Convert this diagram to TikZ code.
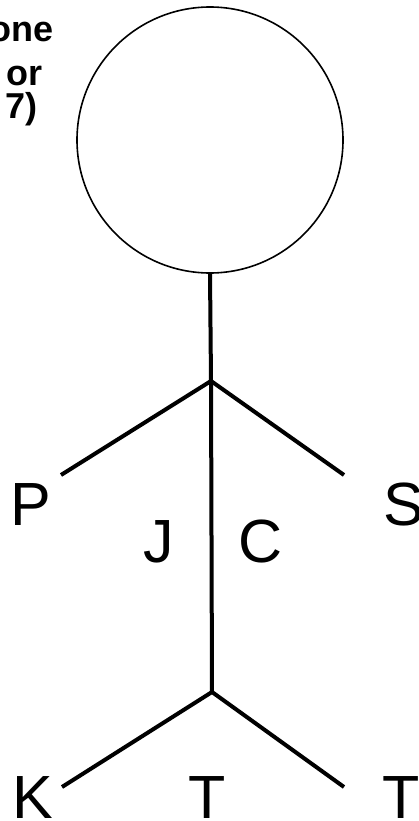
\documentclass[tikz,border=0pt]{standalone}
\usepackage{fontspec}
\setmainfont{Liberation Sans}
\begin{document}
\begin{tikzpicture}[x=1pt,y=-1pt,
  limb/.style={line width=4pt},
  letter/.style={inner sep=0pt,anchor=base,font=\fontsize{61}{61}\selectfont},
  note/.style={inner sep=0pt,anchor=base east,font=\bfseries\fontsize{36}{36}\selectfont}]
\useasboundingbox (0,0) rectangle (419,821);
\clip (0,0) rectangle (419,821);
\node[draw,circle,line width=1.6pt,minimum size=266pt,inner sep=0pt] (head) at (210,140) {};
\coordinate (j1) at (211,381);
\coordinate (j2) at (212,692);
\coordinate (pe) at (61,475);
\coordinate (se) at (344,475);
\coordinate (ke) at (62,787);
\coordinate (te) at (344,787);
\draw[limb] (head.south) -- (j1) -- (j2);
\draw[limb] (pe) -- (j1) -- (se);
\draw[limb] (ke) -- (j2) -- (te);
\node[letter] (P) at (31,525) {P};
\node[letter] (S) at (404,525) {S};
\node[letter] (J) at (159,562) {J};
\node[letter] (C) at (261,562) {C};
\node[letter] (K) at (33,818) {K};
\node[letter] (T1) at (207,818) {T};
\node[letter] (T2) at (401,818) {T};
\node[note] (n1) at (54,42) {one};
\node[note] (n2) at (43,86) {or};
\node[note] (n3) at (38,119) {7)};
\end{tikzpicture}
\end{document}
